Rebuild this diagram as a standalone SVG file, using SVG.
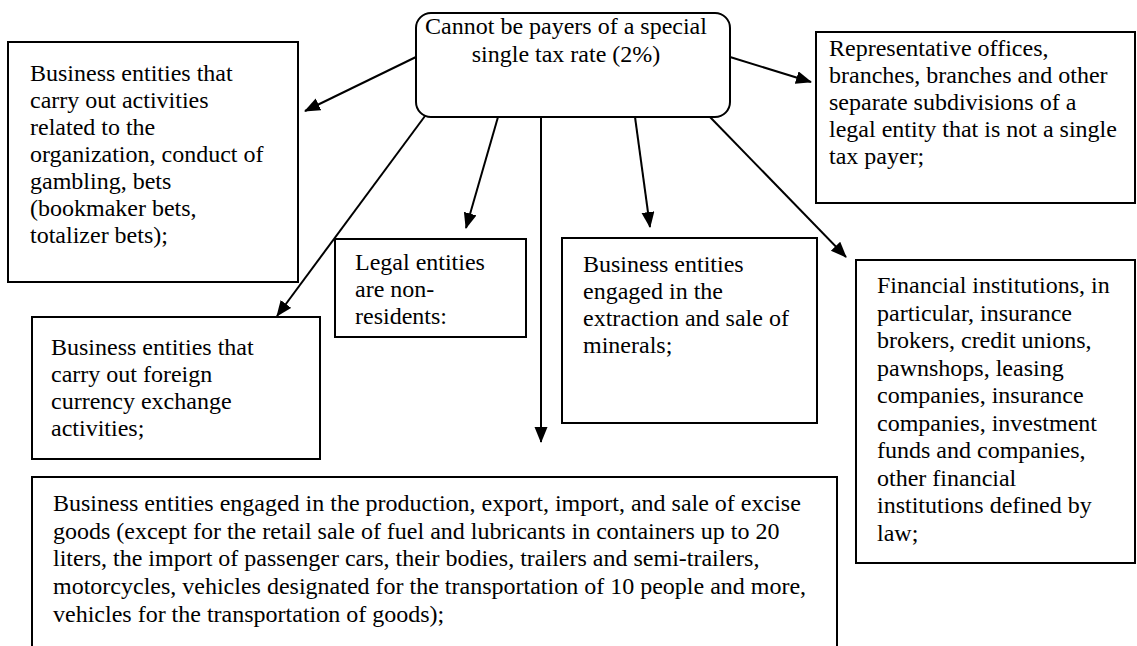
<svg xmlns="http://www.w3.org/2000/svg" width="1137" height="646" viewBox="0 0 1137 646">
<style>
  .box { fill: #ffffff; stroke: #000000; stroke-width: 2; }
  .t { font-family: "Liberation Serif", "Times New Roman", serif; font-size: 24px; fill: #000000; }
  .c { text-anchor: middle; }
  .edge { stroke: #000000; stroke-width: 2; fill: none; marker-end: url(#arrow); }
</style>
<defs>
  <marker id="arrow" markerUnits="userSpaceOnUse" markerWidth="16" markerHeight="14" refX="15" refY="6.5" orient="auto">
    <path d="M0,0 L16,6.5 L0,13 z" fill="#000000"/>
  </marker>
</defs>
<rect width="1137" height="646" fill="#ffffff"/>

<g id="connectors">
  <line class="edge" x1="416" y1="57" x2="305" y2="111"/>
  <line class="edge" x1="425" y1="116" x2="277" y2="316"/>
  <line class="edge" x1="498" y1="117" x2="466" y2="228"/>
  <line class="edge" x1="541" y1="117" x2="541" y2="442"/>
  <line class="edge" x1="635" y1="117" x2="650" y2="227"/>
  <line class="edge" x1="709" y1="116" x2="846" y2="257"/>
  <line class="edge" x1="730" y1="57" x2="811" y2="82"/>
</g>

<g id="center">
  <rect class="box" x="416" y="13" width="314" height="104" rx="15" ry="15"/>
  <text class="t c"><tspan x="566" y="34">Cannot be payers of a special</tspan><tspan x="566" y="62">single tax rate (2%)</tspan></text>
</g>

<g id="gambling">
  <rect class="box" x="8" y="42" width="290" height="240"/>
  <text class="t"><tspan x="30" y="81">Business entities that</tspan><tspan x="30" y="108">carry out activities</tspan><tspan x="30" y="135">related to the</tspan><tspan x="30" y="162">organization, conduct of</tspan><tspan x="30" y="189">gambling, bets</tspan><tspan x="30" y="216">(bookmaker bets,</tspan><tspan x="30" y="243">totalizer bets);</tspan></text>
</g>

<g id="representative">
  <rect class="box" x="816" y="32" width="319" height="171"/>
  <text class="t"><tspan x="829" y="56">Representative offices,</tspan><tspan x="829" y="83">branches, branches and other</tspan><tspan x="829" y="110">separate subdivisions of a</tspan><tspan x="829" y="137">legal entity that is not a single</tspan><tspan x="829" y="164">tax payer;</tspan></text>
</g>

<g id="currency">
  <rect class="box" x="32" y="317" width="288" height="142"/>
  <text class="t"><tspan x="51" y="355">Business entities that</tspan><tspan x="51" y="382">carry out foreign</tspan><tspan x="51" y="409">currency exchange</tspan><tspan x="51" y="436">activities;</tspan></text>
</g>

<g id="nonresidents">
  <rect class="box" x="335" y="239" width="191" height="98"/>
  <text class="t"><tspan x="355" y="270">Legal entities</tspan><tspan x="355" y="297">are non-</tspan><tspan x="355" y="324">residents:</tspan></text>
</g>

<g id="minerals">
  <rect class="box" x="562" y="238" width="255" height="185"/>
  <text class="t"><tspan x="583" y="272">Business entities</tspan><tspan x="583" y="299">engaged in the</tspan><tspan x="583" y="326">extraction and sale of</tspan><tspan x="583" y="353">minerals;</tspan></text>
</g>

<g id="financial">
  <rect class="box" x="856" y="260" width="279" height="303"/>
  <text class="t"><tspan x="877" y="293">Financial institutions, in</tspan><tspan x="877" y="320.5">particular, insurance</tspan><tspan x="877" y="348">brokers, credit unions,</tspan><tspan x="877" y="375.5">pawnshops, leasing</tspan><tspan x="877" y="403">companies, insurance</tspan><tspan x="877" y="430.5">companies, investment</tspan><tspan x="877" y="458">funds and companies,</tspan><tspan x="877" y="485.5">other financial</tspan><tspan x="877" y="513">institutions defined by</tspan><tspan x="877" y="540.5">law;</tspan></text>
</g>

<g id="excise">
  <rect class="box" x="32" y="477" width="805" height="180"/>
  <text class="t"><tspan x="53" y="511">Business entities engaged in the production, export, import, and sale of excise</tspan><tspan x="53" y="539">goods (except for the retail sale of fuel and lubricants in containers up to 20</tspan><tspan x="53" y="566">liters, the import of passenger cars, their bodies, trailers and semi-trailers,</tspan><tspan x="53" y="594">motorcycles, vehicles designated for the transportation of 10 people and more,</tspan><tspan x="53" y="622">vehicles for the transportation of goods);</tspan></text>
</g>
</svg>
